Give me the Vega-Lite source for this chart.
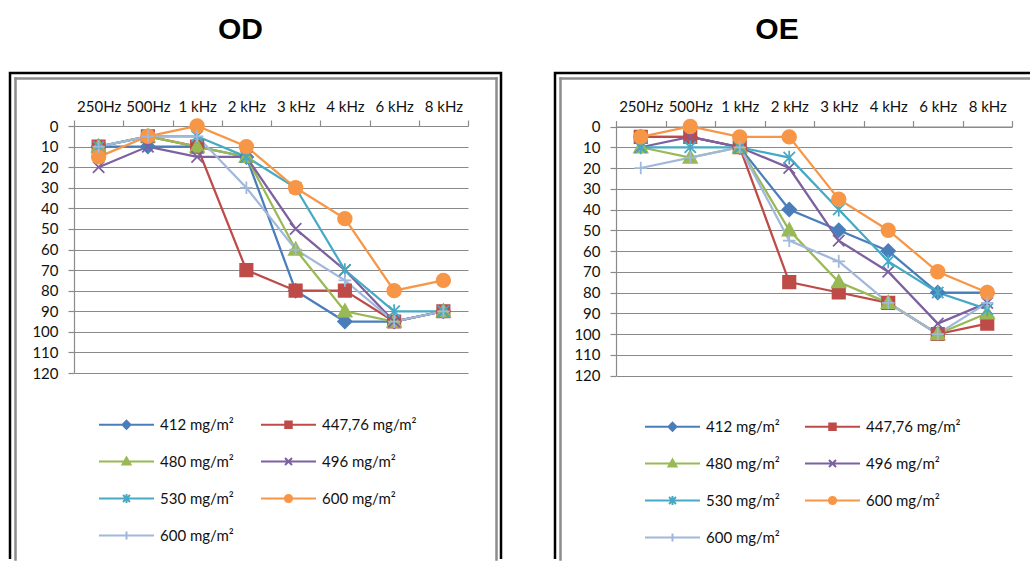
{
  "$schema": "https://vega.github.io/schema/vega-lite/v6.json",
  "background": "white",
  "padding": {"left": 8, "top": 13, "right": 0, "bottom": 0},
  "config": {"font": "Lato", "view": {"stroke": null}},
  "datasets": {
    "od": [
      {"freq": "250Hz", "series": "412 mg/m²", "dB": 10}, {"freq": "500Hz", "series": "412 mg/m²", "dB": 10}, {"freq": "1 kHz", "series": "412 mg/m²", "dB": 10}, {"freq": "2 kHz", "series": "412 mg/m²", "dB": 15},
      {"freq": "3 kHz", "series": "412 mg/m²", "dB": 80}, {"freq": "4 kHz", "series": "412 mg/m²", "dB": 95}, {"freq": "6 kHz", "series": "412 mg/m²", "dB": 95}, {"freq": "8 kHz", "series": "412 mg/m²", "dB": 90},
      {"freq": "250Hz", "series": "447,76 mg/m²", "dB": 10}, {"freq": "500Hz", "series": "447,76 mg/m²", "dB": 5}, {"freq": "1 kHz", "series": "447,76 mg/m²", "dB": 10}, {"freq": "2 kHz", "series": "447,76 mg/m²", "dB": 70},
      {"freq": "3 kHz", "series": "447,76 mg/m²", "dB": 80}, {"freq": "4 kHz", "series": "447,76 mg/m²", "dB": 80}, {"freq": "6 kHz", "series": "447,76 mg/m²", "dB": 95}, {"freq": "8 kHz", "series": "447,76 mg/m²", "dB": 90},
      {"freq": "250Hz", "series": "480 mg/m²", "dB": 10}, {"freq": "500Hz", "series": "480 mg/m²", "dB": 5}, {"freq": "1 kHz", "series": "480 mg/m²", "dB": 10}, {"freq": "2 kHz", "series": "480 mg/m²", "dB": 15},
      {"freq": "3 kHz", "series": "480 mg/m²", "dB": 60}, {"freq": "4 kHz", "series": "480 mg/m²", "dB": 90}, {"freq": "6 kHz", "series": "480 mg/m²", "dB": 95}, {"freq": "8 kHz", "series": "480 mg/m²", "dB": 90},
      {"freq": "250Hz", "series": "496 mg/m²", "dB": 20}, {"freq": "500Hz", "series": "496 mg/m²", "dB": 10}, {"freq": "1 kHz", "series": "496 mg/m²", "dB": 15}, {"freq": "2 kHz", "series": "496 mg/m²", "dB": 15},
      {"freq": "3 kHz", "series": "496 mg/m²", "dB": 50}, {"freq": "4 kHz", "series": "496 mg/m²", "dB": 70}, {"freq": "6 kHz", "series": "496 mg/m²", "dB": 95}, {"freq": "8 kHz", "series": "496 mg/m²", "dB": 90},
      {"freq": "250Hz", "series": "530 mg/m²", "dB": 10}, {"freq": "500Hz", "series": "530 mg/m²", "dB": 5}, {"freq": "1 kHz", "series": "530 mg/m²", "dB": 5}, {"freq": "2 kHz", "series": "530 mg/m²", "dB": 15},
      {"freq": "3 kHz", "series": "530 mg/m²", "dB": 30}, {"freq": "4 kHz", "series": "530 mg/m²", "dB": 70}, {"freq": "6 kHz", "series": "530 mg/m²", "dB": 90}, {"freq": "8 kHz", "series": "530 mg/m²", "dB": 90},
      {"freq": "250Hz", "series": "600 mg/m²", "dB": 15}, {"freq": "500Hz", "series": "600 mg/m²", "dB": 5}, {"freq": "1 kHz", "series": "600 mg/m²", "dB": 0}, {"freq": "2 kHz", "series": "600 mg/m²", "dB": 10},
      {"freq": "3 kHz", "series": "600 mg/m²", "dB": 30}, {"freq": "4 kHz", "series": "600 mg/m²", "dB": 45}, {"freq": "6 kHz", "series": "600 mg/m²", "dB": 80}, {"freq": "8 kHz", "series": "600 mg/m²", "dB": 75},
      {"freq": "250Hz", "series": "600 mg/m² ", "dB": 10}, {"freq": "500Hz", "series": "600 mg/m² ", "dB": 5}, {"freq": "1 kHz", "series": "600 mg/m² ", "dB": 5}, {"freq": "2 kHz", "series": "600 mg/m² ", "dB": 30},
      {"freq": "3 kHz", "series": "600 mg/m² ", "dB": 60}, {"freq": "4 kHz", "series": "600 mg/m² ", "dB": 75}, {"freq": "6 kHz", "series": "600 mg/m² ", "dB": 95}, {"freq": "8 kHz", "series": "600 mg/m² ", "dB": 90}
    ],
    "oe": [
      {"freq": "250Hz", "series": "412 mg/m²", "dB": 5}, {"freq": "500Hz", "series": "412 mg/m²", "dB": 5}, {"freq": "1 kHz", "series": "412 mg/m²", "dB": 10}, {"freq": "2 kHz", "series": "412 mg/m²", "dB": 40},
      {"freq": "3 kHz", "series": "412 mg/m²", "dB": 50}, {"freq": "4 kHz", "series": "412 mg/m²", "dB": 60}, {"freq": "6 kHz", "series": "412 mg/m²", "dB": 80}, {"freq": "8 kHz", "series": "412 mg/m²", "dB": 80},
      {"freq": "250Hz", "series": "447,76 mg/m²", "dB": 5}, {"freq": "500Hz", "series": "447,76 mg/m²", "dB": 5}, {"freq": "1 kHz", "series": "447,76 mg/m²", "dB": 10}, {"freq": "2 kHz", "series": "447,76 mg/m²", "dB": 75},
      {"freq": "3 kHz", "series": "447,76 mg/m²", "dB": 80}, {"freq": "4 kHz", "series": "447,76 mg/m²", "dB": 85}, {"freq": "6 kHz", "series": "447,76 mg/m²", "dB": 100}, {"freq": "8 kHz", "series": "447,76 mg/m²", "dB": 95},
      {"freq": "250Hz", "series": "480 mg/m²", "dB": 10}, {"freq": "500Hz", "series": "480 mg/m²", "dB": 15}, {"freq": "1 kHz", "series": "480 mg/m²", "dB": 10}, {"freq": "2 kHz", "series": "480 mg/m²", "dB": 50},
      {"freq": "3 kHz", "series": "480 mg/m²", "dB": 75}, {"freq": "4 kHz", "series": "480 mg/m²", "dB": 85}, {"freq": "6 kHz", "series": "480 mg/m²", "dB": 100}, {"freq": "8 kHz", "series": "480 mg/m²", "dB": 90},
      {"freq": "250Hz", "series": "496 mg/m²", "dB": 10}, {"freq": "500Hz", "series": "496 mg/m²", "dB": 5}, {"freq": "1 kHz", "series": "496 mg/m²", "dB": 10}, {"freq": "2 kHz", "series": "496 mg/m²", "dB": 20},
      {"freq": "3 kHz", "series": "496 mg/m²", "dB": 55}, {"freq": "4 kHz", "series": "496 mg/m²", "dB": 70}, {"freq": "6 kHz", "series": "496 mg/m²", "dB": 95}, {"freq": "8 kHz", "series": "496 mg/m²", "dB": 85},
      {"freq": "250Hz", "series": "530 mg/m²", "dB": 10}, {"freq": "500Hz", "series": "530 mg/m²", "dB": 10}, {"freq": "1 kHz", "series": "530 mg/m²", "dB": 10}, {"freq": "2 kHz", "series": "530 mg/m²", "dB": 15},
      {"freq": "3 kHz", "series": "530 mg/m²", "dB": 40}, {"freq": "4 kHz", "series": "530 mg/m²", "dB": 65}, {"freq": "6 kHz", "series": "530 mg/m²", "dB": 80}, {"freq": "8 kHz", "series": "530 mg/m²", "dB": 88},
      {"freq": "250Hz", "series": "600 mg/m²", "dB": 5}, {"freq": "500Hz", "series": "600 mg/m²", "dB": 0}, {"freq": "1 kHz", "series": "600 mg/m²", "dB": 5}, {"freq": "2 kHz", "series": "600 mg/m²", "dB": 5},
      {"freq": "3 kHz", "series": "600 mg/m²", "dB": 35}, {"freq": "4 kHz", "series": "600 mg/m²", "dB": 50}, {"freq": "6 kHz", "series": "600 mg/m²", "dB": 70}, {"freq": "8 kHz", "series": "600 mg/m²", "dB": 80},
      {"freq": "250Hz", "series": "600 mg/m² ", "dB": 20}, {"freq": "500Hz", "series": "600 mg/m² ", "dB": 15}, {"freq": "1 kHz", "series": "600 mg/m² ", "dB": 10}, {"freq": "2 kHz", "series": "600 mg/m² ", "dB": 55},
      {"freq": "3 kHz", "series": "600 mg/m² ", "dB": 65}, {"freq": "4 kHz", "series": "600 mg/m² ", "dB": 85}, {"freq": "6 kHz", "series": "600 mg/m² ", "dB": 100}, {"freq": "8 kHz", "series": "600 mg/m² ", "dB": 85}
    ]
  },
  "spacing": 50,
  "resolve": {
    "scale": {"fill": "independent", "stroke": "independent", "shape": "independent", "strokeWidth": "independent"},
    "legend": {"fill": "independent", "stroke": "independent", "shape": "independent", "strokeWidth": "independent"}
  },
  "hconcat": [
    {
      "width": 491,
      "height": 486,
      "title": {"text": "OD", "font": "Liberation Sans", "fontSize": 30, "fontWeight": "bold", "color": "#000000", "anchor": "middle", "dx": -15, "offset": 28},
      "view": {"fill": "white", "stroke": "#000000", "strokeWidth": 2.5, "strokeDash": [977, 491, 500]},
      "resolve": {"scale": {"x": "independent", "y": "independent"}, "axis": {"x": "independent", "y": "independent"}},
      "layer": [
        {
          "data": {"name": "od"},
          "encoding": {
            "x": {
              "field": "freq", "type": "nominal", "bandPosition": 0.5,
              "sort": ["250Hz", "500Hz", "1 kHz", "2 kHz", "3 kHz", "4 kHz", "6 kHz", "8 kHz"],
              "scale": {"type": "band", "domain": ["250Hz", "500Hz", "1 kHz", "2 kHz", "3 kHz", "4 kHz", "6 kHz", "8 kHz"], "range": [64, 458], "paddingInner": 0, "paddingOuter": 0},
              "axis": {"orient": "top", "offset": -53, "title": null, "grid": false, "domainColor": "#8a8a8a", "domainWidth": 1.2, "tickColor": "#8a8a8a", "tickWidth": 1.2, "tickSize": 6, "tickBand": "extent", "labelFont": "Lato", "labelFontSize": 15, "labelColor": "#111111", "labelPadding": 6, "labelAngle": 0, "labelOverlap": false}
            },
            "y": {
              "field": "dB", "type": "quantitative",
              "scale": {"domain": [0, 120], "range": [53, 300], "nice": false, "zero": false},
              "axis": {"orient": "left", "offset": -64, "title": null, "values": [0, 10, 20, 30, 40, 50, 60, 70, 80, 90, 100, 110, 120], "grid": true, "gridColor": "#8a8a8a", "gridWidth": 1.2, "domainColor": "#8a8a8a", "domainWidth": 1.2, "tickColor": "#8a8a8a", "tickWidth": 1.2, "tickSize": 6, "labelFont": "Lato", "labelFontSize": 15, "labelColor": "#111111", "labelPadding": 10, "labelOverlap": false}
            }
          },
          "layer": [
            {
              "mark": {"type": "line", "strokeWidth": 2.25},
              "encoding": {
                "stroke": {
                  "field": "series", "type": "nominal",
                  "scale": {"domain": ["412 mg/m²", "447,76 mg/m²", "480 mg/m²", "496 mg/m²", "530 mg/m²", "600 mg/m²", "600 mg/m² "], "range": ["#4A7EBB", "#BE4B48", "#98B954", "#7D60A0", "#46AAC5", "#F79646", "#A0B8DC"]},
                  "legend": {
                    "orient": "none", "legendX": 109, "legendY": 344, "columns": 2, "direction": "horizontal", "title": null, "padding": 0,
                    "symbolSize": 100, "symbolOpacity": 1, "labelOffset": 26, "columnPadding": 23, "rowPadding": 20,
                    "labelFont": "Lato", "labelFontSize": 15, "labelColor": "#111111", "labelLimit": 0
                  }
                }
              }
            },
            {
              "transform": [{"filter": "false"}],
              "mark": {"type": "point", "size": 100, "opacity": 1, "fillOpacity": 1, "strokeOpacity": 1},
              "encoding": {
                "fill": {"field": "series", "type": "nominal",
                  "scale": {"domain": ["412 mg/m²", "447,76 mg/m²", "480 mg/m²", "496 mg/m²", "530 mg/m²", "600 mg/m²", "600 mg/m² "], "range": ["#4A7EBB", "#BE4B48", "#98B954", "transparent", "transparent", "#F79646", "transparent"]}},
                "stroke": {"field": "series", "type": "nominal"},
                "shape": {"field": "series", "type": "nominal",
                  "scale": {"domain": ["412 mg/m²", "447,76 mg/m²", "480 mg/m²", "496 mg/m²", "530 mg/m²", "600 mg/m²", "600 mg/m² "], "range": ["M-5.5,0H5.5M0,-0.8L0.8,0L0,0.8L-0.8,0Z", "M-5.5,0H5.5M-0.65,-0.65H0.65V0.65H-0.65Z", "M-5.5,0H5.5M0,-0.8L0.8,0.6H-0.8Z", "M-5.5,0H5.5M-0.7,-0.7L0.7,0.7M-0.7,0.7L0.7,-0.7", "M-5.5,0H5.5M-0.7,-0.7L0.7,0.7M-0.7,0.7L0.7,-0.7M0,-0.9V0.9", "M-5.5,0H5.5M-0.72,0A0.72,0.72,0,1,0,0.72,0A0.72,0.72,0,1,0,-0.72,0Z", "M-5.5,0H5.5M0,-0.8V0.8"]}},
                "strokeWidth": {"field": "series", "type": "nominal",
                  "scale": {"domain": ["412 mg/m²", "447,76 mg/m²", "480 mg/m²", "496 mg/m²", "530 mg/m²", "600 mg/m²", "600 mg/m² "], "range": [2, 2, 2, 2, 3, 3, 2]}}
              }
            },
            {"transform": [{"filter": {"field": "series", "equal": "412 mg/m²"}}], "mark": {"type": "point", "shape": "M0,-1.1L1.1,0L0,1.1L-1.1,0Z", "size": 160, "strokeWidth": 1.5, "opacity": 1}, "encoding": {"fill": {"field": "series", "type": "nominal"}, "stroke": {"field": "series", "type": "nominal"}}},
            {"transform": [{"filter": {"field": "series", "equal": "447,76 mg/m²"}}], "mark": {"type": "point", "shape": "M-1,-1H1V1H-1Z", "size": 160, "strokeWidth": 1.5, "opacity": 1}, "encoding": {"fill": {"field": "series", "type": "nominal"}, "stroke": {"field": "series", "type": "nominal"}}},
            {"transform": [{"filter": {"field": "series", "equal": "480 mg/m²"}}], "mark": {"type": "point", "shape": "M0,-1.15L1.1,0.85H-1.1Z", "size": 160, "strokeWidth": 1.5, "opacity": 1}, "encoding": {"fill": {"field": "series", "type": "nominal"}, "stroke": {"field": "series", "type": "nominal"}}},
            {"transform": [{"filter": {"field": "series", "equal": "496 mg/m²"}}], "mark": {"type": "point", "shape": "M-0.9,-0.9L0.9,0.9M-0.9,0.9L0.9,-0.9", "size": 160, "strokeWidth": 1.75, "opacity": 1}, "encoding": {"fill": {"field": "series", "type": "nominal"}, "stroke": {"field": "series", "type": "nominal"}}},
            {"transform": [{"filter": {"field": "series", "equal": "530 mg/m²"}}], "mark": {"type": "point", "shape": "M-0.9,-0.9L0.9,0.9M-0.9,0.9L0.9,-0.9M0,-1.1V1.1", "size": 160, "strokeWidth": 1.75, "opacity": 1}, "encoding": {"fill": {"field": "series", "type": "nominal"}, "stroke": {"field": "series", "type": "nominal"}}},
            {"transform": [{"filter": {"field": "series", "equal": "600 mg/m²"}}], "mark": {"type": "point", "shape": "M-1.1,0A1.1,1.1,0,1,0,1.1,0A1.1,1.1,0,1,0,-1.1,0Z", "size": 160, "strokeWidth": 1.5, "opacity": 1}, "encoding": {"fill": {"field": "series", "type": "nominal"}, "stroke": {"field": "series", "type": "nominal"}}},
            {"transform": [{"filter": {"field": "series", "equal": "600 mg/m² "}}], "mark": {"type": "point", "shape": "M-1,0H1M0,-1V1", "size": 160, "strokeWidth": 1.75, "opacity": 1}, "encoding": {"fill": {"field": "series", "type": "nominal"}, "stroke": {"field": "series", "type": "nominal"}}}
          ]
        },
        {
          "data": {"values": [{}]},
          "mark": {"type": "point", "opacity": 0},
          "encoding": {
            "x": {"datum": 0, "type": "quantitative", "scale": {"domain": [0, 1], "range": [5, 486]},
              "axis": {"orient": "top", "offset": -5, "title": null, "labels": false, "ticks": false, "grid": false, "domainColor": "#8c8c8c", "domainWidth": 2.5, "domainCap": "square"}},
            "y": {"datum": 0, "type": "quantitative", "scale": {"domain": [0, 1], "range": [5, 486]},
              "axis": {"orient": "left", "offset": -5, "title": null, "labels": false, "ticks": false, "grid": false, "domainColor": "#8c8c8c", "domainWidth": 2.5, "domainCap": "square"}}
          }
        },
        {
          "data": {"values": [{}]},
          "mark": {"type": "point", "opacity": 0},
          "encoding": {
            "y": {"datum": 0, "type": "quantitative", "scale": {"domain": [0, 1], "range": [5, 486]},
              "axis": {"orient": "right", "offset": -5, "title": null, "labels": false, "ticks": false, "grid": false, "domainColor": "#8c8c8c", "domainWidth": 2.5, "domainCap": "square"}}
          }
        }
      ]
    },
    {
      "width": 475,
      "height": 486,
      "title": {"text": "OE", "font": "Liberation Sans", "fontSize": 30, "fontWeight": "bold", "color": "#000000", "anchor": "middle", "dx": -15.5, "offset": 28},
      "view": {"fill": "white", "stroke": "#000000", "strokeWidth": 2.5, "strokeDash": [475, 961, 500]},
      "resolve": {"scale": {"x": "independent", "y": "independent"}, "axis": {"x": "independent", "y": "independent"}},
      "layer": [
        {
          "data": {"name": "oe"},
          "encoding": {
            "x": {
              "field": "freq", "type": "nominal", "bandPosition": 0.5,
              "sort": ["250Hz", "500Hz", "1 kHz", "2 kHz", "3 kHz", "4 kHz", "6 kHz", "8 kHz"],
              "scale": {"type": "band", "domain": ["250Hz", "500Hz", "1 kHz", "2 kHz", "3 kHz", "4 kHz", "6 kHz", "8 kHz"], "range": [61, 457], "paddingInner": 0, "paddingOuter": 0},
              "axis": {"orient": "top", "offset": -53.5, "title": null, "grid": false, "domainColor": "#8a8a8a", "domainWidth": 1.2, "tickColor": "#8a8a8a", "tickWidth": 1.2, "tickSize": 6, "tickBand": "extent", "labelFont": "Lato", "labelFontSize": 15, "labelColor": "#111111", "labelPadding": 6, "labelAngle": 0, "labelOverlap": false}
            },
            "y": {
              "field": "dB", "type": "quantitative",
              "scale": {"domain": [0, 120], "range": [53.5, 302.5], "nice": false, "zero": false},
              "axis": {"orient": "left", "offset": -61, "title": null, "values": [0, 10, 20, 30, 40, 50, 60, 70, 80, 90, 100, 110, 120], "grid": true, "gridColor": "#8a8a8a", "gridWidth": 1.2, "domainColor": "#8a8a8a", "domainWidth": 1.2, "tickColor": "#8a8a8a", "tickWidth": 1.2, "tickSize": 6, "labelFont": "Lato", "labelFontSize": 15, "labelColor": "#111111", "labelPadding": 10, "labelOverlap": false}
            }
          },
          "layer": [
            {
              "mark": {"type": "line", "strokeWidth": 2.25},
              "encoding": {
                "stroke": {
                  "field": "series", "type": "nominal",
                  "scale": {"domain": ["412 mg/m²", "447,76 mg/m²", "480 mg/m²", "496 mg/m²", "530 mg/m²", "600 mg/m²", "600 mg/m² "], "range": ["#4A7EBB", "#BE4B48", "#98B954", "#7D60A0", "#46AAC5", "#F79646", "#A0B8DC"]},
                  "legend": {
                    "orient": "none", "legendX": 110, "legendY": 346, "columns": 2, "direction": "horizontal", "title": null, "padding": 0,
                    "symbolSize": 100, "symbolOpacity": 1, "labelOffset": 26, "columnPadding": 21, "rowPadding": 20,
                    "labelFont": "Lato", "labelFontSize": 15, "labelColor": "#111111", "labelLimit": 0
                  }
                }
              }
            },
            {
              "transform": [{"filter": "false"}],
              "mark": {"type": "point", "size": 100, "opacity": 1, "fillOpacity": 1, "strokeOpacity": 1},
              "encoding": {
                "fill": {"field": "series", "type": "nominal",
                  "scale": {"domain": ["412 mg/m²", "447,76 mg/m²", "480 mg/m²", "496 mg/m²", "530 mg/m²", "600 mg/m²", "600 mg/m² "], "range": ["#4A7EBB", "#BE4B48", "#98B954", "transparent", "transparent", "#F79646", "transparent"]}},
                "stroke": {"field": "series", "type": "nominal"},
                "shape": {"field": "series", "type": "nominal",
                  "scale": {"domain": ["412 mg/m²", "447,76 mg/m²", "480 mg/m²", "496 mg/m²", "530 mg/m²", "600 mg/m²", "600 mg/m² "], "range": ["M-5.5,0H5.5M0,-0.8L0.8,0L0,0.8L-0.8,0Z", "M-5.5,0H5.5M-0.65,-0.65H0.65V0.65H-0.65Z", "M-5.5,0H5.5M0,-0.8L0.8,0.6H-0.8Z", "M-5.5,0H5.5M-0.7,-0.7L0.7,0.7M-0.7,0.7L0.7,-0.7", "M-5.5,0H5.5M-0.7,-0.7L0.7,0.7M-0.7,0.7L0.7,-0.7M0,-0.9V0.9", "M-5.5,0H5.5M-0.72,0A0.72,0.72,0,1,0,0.72,0A0.72,0.72,0,1,0,-0.72,0Z", "M-5.5,0H5.5M0,-0.8V0.8"]}},
                "strokeWidth": {"field": "series", "type": "nominal",
                  "scale": {"domain": ["412 mg/m²", "447,76 mg/m²", "480 mg/m²", "496 mg/m²", "530 mg/m²", "600 mg/m²", "600 mg/m² "], "range": [2, 2, 2, 2, 3, 3, 2]}}
              }
            },
            {"transform": [{"filter": {"field": "series", "equal": "412 mg/m²"}}], "mark": {"type": "point", "shape": "M0,-1.1L1.1,0L0,1.1L-1.1,0Z", "size": 160, "strokeWidth": 1.5, "opacity": 1}, "encoding": {"fill": {"field": "series", "type": "nominal"}, "stroke": {"field": "series", "type": "nominal"}}},
            {"transform": [{"filter": {"field": "series", "equal": "447,76 mg/m²"}}], "mark": {"type": "point", "shape": "M-1,-1H1V1H-1Z", "size": 160, "strokeWidth": 1.5, "opacity": 1}, "encoding": {"fill": {"field": "series", "type": "nominal"}, "stroke": {"field": "series", "type": "nominal"}}},
            {"transform": [{"filter": {"field": "series", "equal": "480 mg/m²"}}], "mark": {"type": "point", "shape": "M0,-1.15L1.1,0.85H-1.1Z", "size": 160, "strokeWidth": 1.5, "opacity": 1}, "encoding": {"fill": {"field": "series", "type": "nominal"}, "stroke": {"field": "series", "type": "nominal"}}},
            {"transform": [{"filter": {"field": "series", "equal": "496 mg/m²"}}], "mark": {"type": "point", "shape": "M-0.9,-0.9L0.9,0.9M-0.9,0.9L0.9,-0.9", "size": 160, "strokeWidth": 1.75, "opacity": 1}, "encoding": {"fill": {"field": "series", "type": "nominal"}, "stroke": {"field": "series", "type": "nominal"}}},
            {"transform": [{"filter": {"field": "series", "equal": "530 mg/m²"}}], "mark": {"type": "point", "shape": "M-0.9,-0.9L0.9,0.9M-0.9,0.9L0.9,-0.9M0,-1.1V1.1", "size": 160, "strokeWidth": 1.75, "opacity": 1}, "encoding": {"fill": {"field": "series", "type": "nominal"}, "stroke": {"field": "series", "type": "nominal"}}},
            {"transform": [{"filter": {"field": "series", "equal": "600 mg/m²"}}], "mark": {"type": "point", "shape": "M-1.1,0A1.1,1.1,0,1,0,1.1,0A1.1,1.1,0,1,0,-1.1,0Z", "size": 160, "strokeWidth": 1.5, "opacity": 1}, "encoding": {"fill": {"field": "series", "type": "nominal"}, "stroke": {"field": "series", "type": "nominal"}}},
            {"transform": [{"filter": {"field": "series", "equal": "600 mg/m² "}}], "mark": {"type": "point", "shape": "M-1,0H1M0,-1V1", "size": 160, "strokeWidth": 1.75, "opacity": 1}, "encoding": {"fill": {"field": "series", "type": "nominal"}, "stroke": {"field": "series", "type": "nominal"}}}
          ]
        },
        {
          "data": {"values": [{}]},
          "mark": {"type": "point", "opacity": 0},
          "encoding": {
            "x": {"datum": 0, "type": "quantitative", "scale": {"domain": [0, 1], "range": [5, 475]},
              "axis": {"orient": "top", "offset": -5, "title": null, "labels": false, "ticks": false, "grid": false, "domainColor": "#8c8c8c", "domainWidth": 2.5, "domainCap": "square"}},
            "y": {"datum": 0, "type": "quantitative", "scale": {"domain": [0, 1], "range": [5, 486]},
              "axis": {"orient": "left", "offset": -5, "title": null, "labels": false, "ticks": false, "grid": false, "domainColor": "#8c8c8c", "domainWidth": 2.5, "domainCap": "square"}}
          }
        }
      ]
    }
  ]
}
